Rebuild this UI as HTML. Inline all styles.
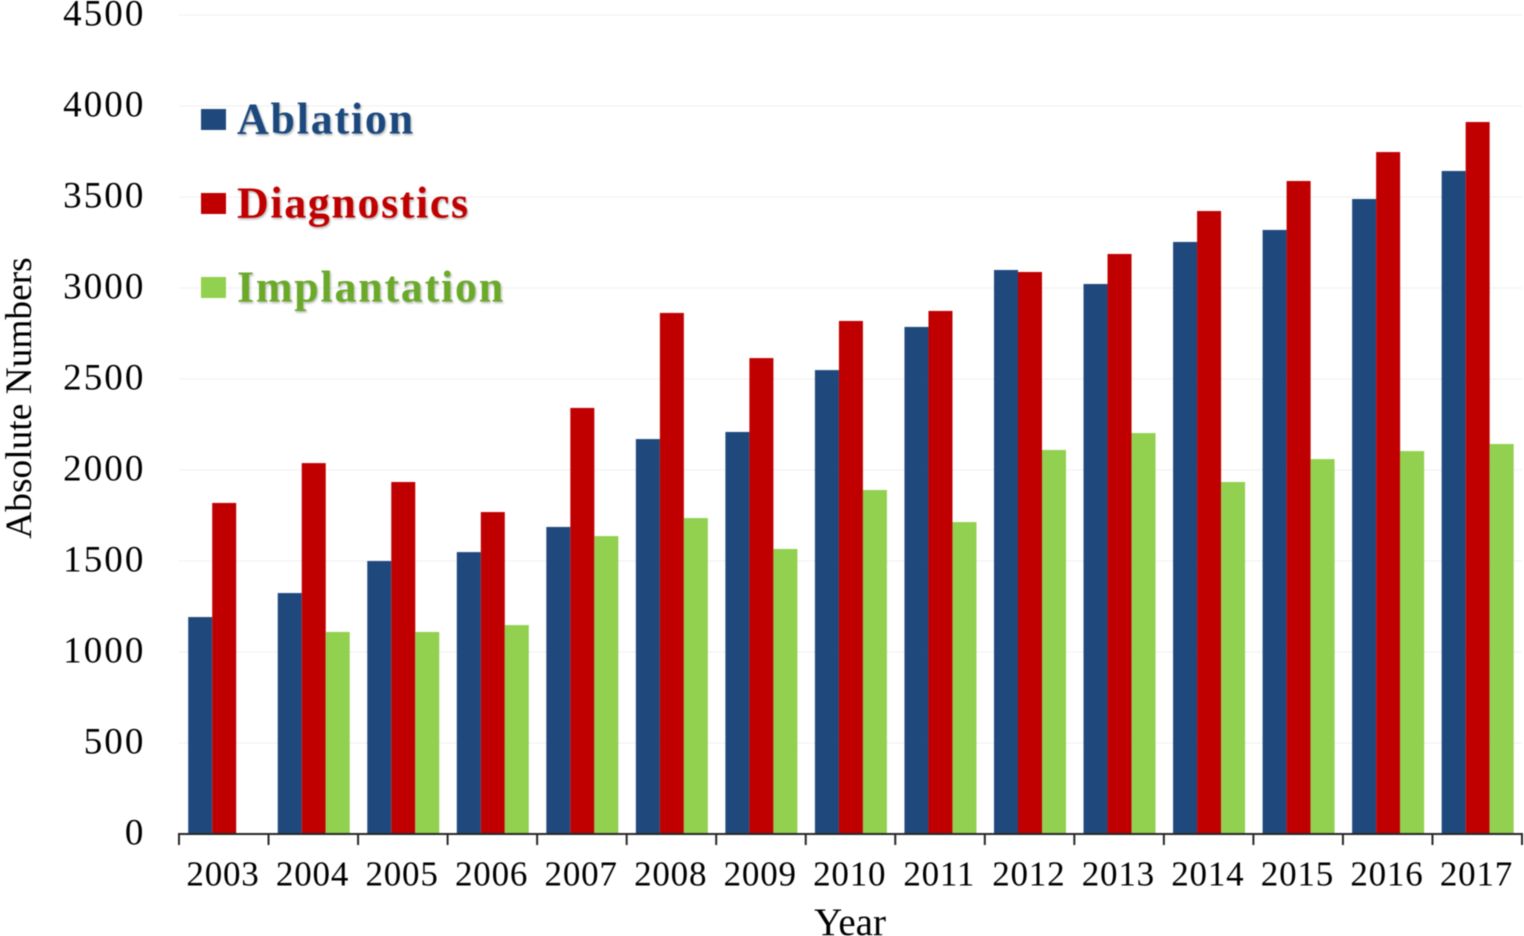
<!DOCTYPE html>
<html>
<head>
<meta charset="utf-8">
<title>Absolute Numbers by Year</title>
<style>
html,body{margin:0;padding:0;background:#fff;width:1524px;height:936px;overflow:hidden}
svg{display:block;filter:blur(0.45px)}
text{font-family:"Liberation Serif",serif;fill:#000}
</style>
</head>
<body>
<svg id="chart" width="1524" height="936" viewBox="0 0 1524 936" xmlns="http://www.w3.org/2000/svg">
  <defs>
    <filter id="legend-shadow" x="-5%" y="-10%" width="112%" height="130%">
      <feDropShadow dx="1" dy="1.5" stdDeviation="1" flood-color="#000" flood-opacity="0.3"/>
    </filter>
  </defs>
  <g id="grid"></g>
  <g id="bars"></g>
  <g id="axes"></g>
  <text transform="translate(31,398) rotate(-90)" text-anchor="middle" font-size="37.4">Absolute Numbers</text>
  <text x="850" y="935" text-anchor="middle" font-size="39">Year</text>
  <g id="legend"></g>
</svg>
<script>
var categories = ['2003','2004','2005','2006','2007','2008','2009','2010','2011','2012','2013','2014','2015','2016','2017'];
var ablation = [1192,1324,1500,1549,1687,2170,2209,2549,2786,3099,3022,3253,3319,3489,3643];
var diagnostics = [1819,2038,1934,1769,2341,2863,2615,2819,2874,3088,3187,3423,3588,3747,3912];
var implantation = [0,1110,1110,1148,1637,1736,1566,1890,1714,2110,2203,1934,2060,2104,2143];
var yTicks = [0,500,1000,1500,2000,2500,3000,3500,4000,4500];
var seriesNames = ['Ablation','Diagnostics','Implantation'];

var NS = 'http://www.w3.org/2000/svg';
var plotLeft = 179, plotRight = 1522, plotBottom = 834, plotTop = 15, yMax = 4500;
var barWidth = 24, barOffset = 9.2;
var barColors = ['#1F497D','#C00000','#92D050'];
var textColors = ['#1F497D','#C00000','#6AA92A'];
var allSeries = [ablation, diagnostics, implantation];

function yScale(v){ return plotBottom - (v / yMax) * (plotBottom - plotTop); }
function xBand(i){ return plotLeft + i * (plotRight - plotLeft) / categories.length; }
function make(tag, attrs, parent){
  var el = document.createElementNS(NS, tag);
  for (var k in attrs) el.setAttribute(k, attrs[k]);
  parent.appendChild(el);
  return el;
}

var gridG = document.getElementById('grid');
var axesG = document.getElementById('axes');
var barsG = document.getElementById('bars');
var legendG = document.getElementById('legend');

yTicks.forEach(function(t){
  if (t > 0) {
    var line = make('line', {x1: plotLeft, x2: plotRight, y1: yScale(t), y2: yScale(t), stroke: '#f3f3f3', 'stroke-width': 1.5}, gridG);
    
    
  }
  var label = make('text', {x: 145.5, y: yScale(t) + 10.5, 'text-anchor': 'end', 'font-size': 37, 'letter-spacing': 2.1}, axesG);
  label.textContent = t;
  
  
});

allSeries.forEach(function(values, s){
  values.forEach(function(v, i){
    if (v <= 0) return;
    var rect = make('rect', {x: xBand(i) + barOffset + s * barWidth, y: yScale(v), width: barWidth, height: plotBottom - yScale(v), fill: barColors[s]}, barsG);
    
    
  });
});

var axisLine = make('line', {x1: plotLeft - 1, x2: plotRight + 1, y1: plotBottom, y2: plotBottom, stroke: '#262626', 'stroke-width': 2}, axesG);



for (var i = 0; i <= categories.length; i++) {
  var tick = make('line', {x1: xBand(i), x2: xBand(i), y1: plotBottom, y2: plotBottom + 11, stroke: '#262626', 'stroke-width': 2}, axesG);
  
  
}

categories.forEach(function(c, i){
  var label = make('text', {x: xBand(i) + 44, y: 885.5, 'text-anchor': 'middle', 'font-size': 35, 'letter-spacing': 0.8}, axesG);
  label.textContent = c;
  
  
});

var legendY = [109, 193, 277];
var legendSpacing = [1.75, 1.6, 1.75];
seriesNames.forEach(function(name, s){
  var swatch = make('rect', {x: 201, y: legendY[s], width: 25, height: 21, fill: barColors[s]}, legendG);
  
  
  var label = make('text', {x: 237, y: legendY[s] + 24.5, 'font-size': 44, 'font-weight': 'bold', 'letter-spacing': legendSpacing[s], filter: 'url(#legend-shadow)'}, legendG);
  label.style.fill = textColors[s];
  label.textContent = name;
  
  
});
</script>
</body>
</html>
